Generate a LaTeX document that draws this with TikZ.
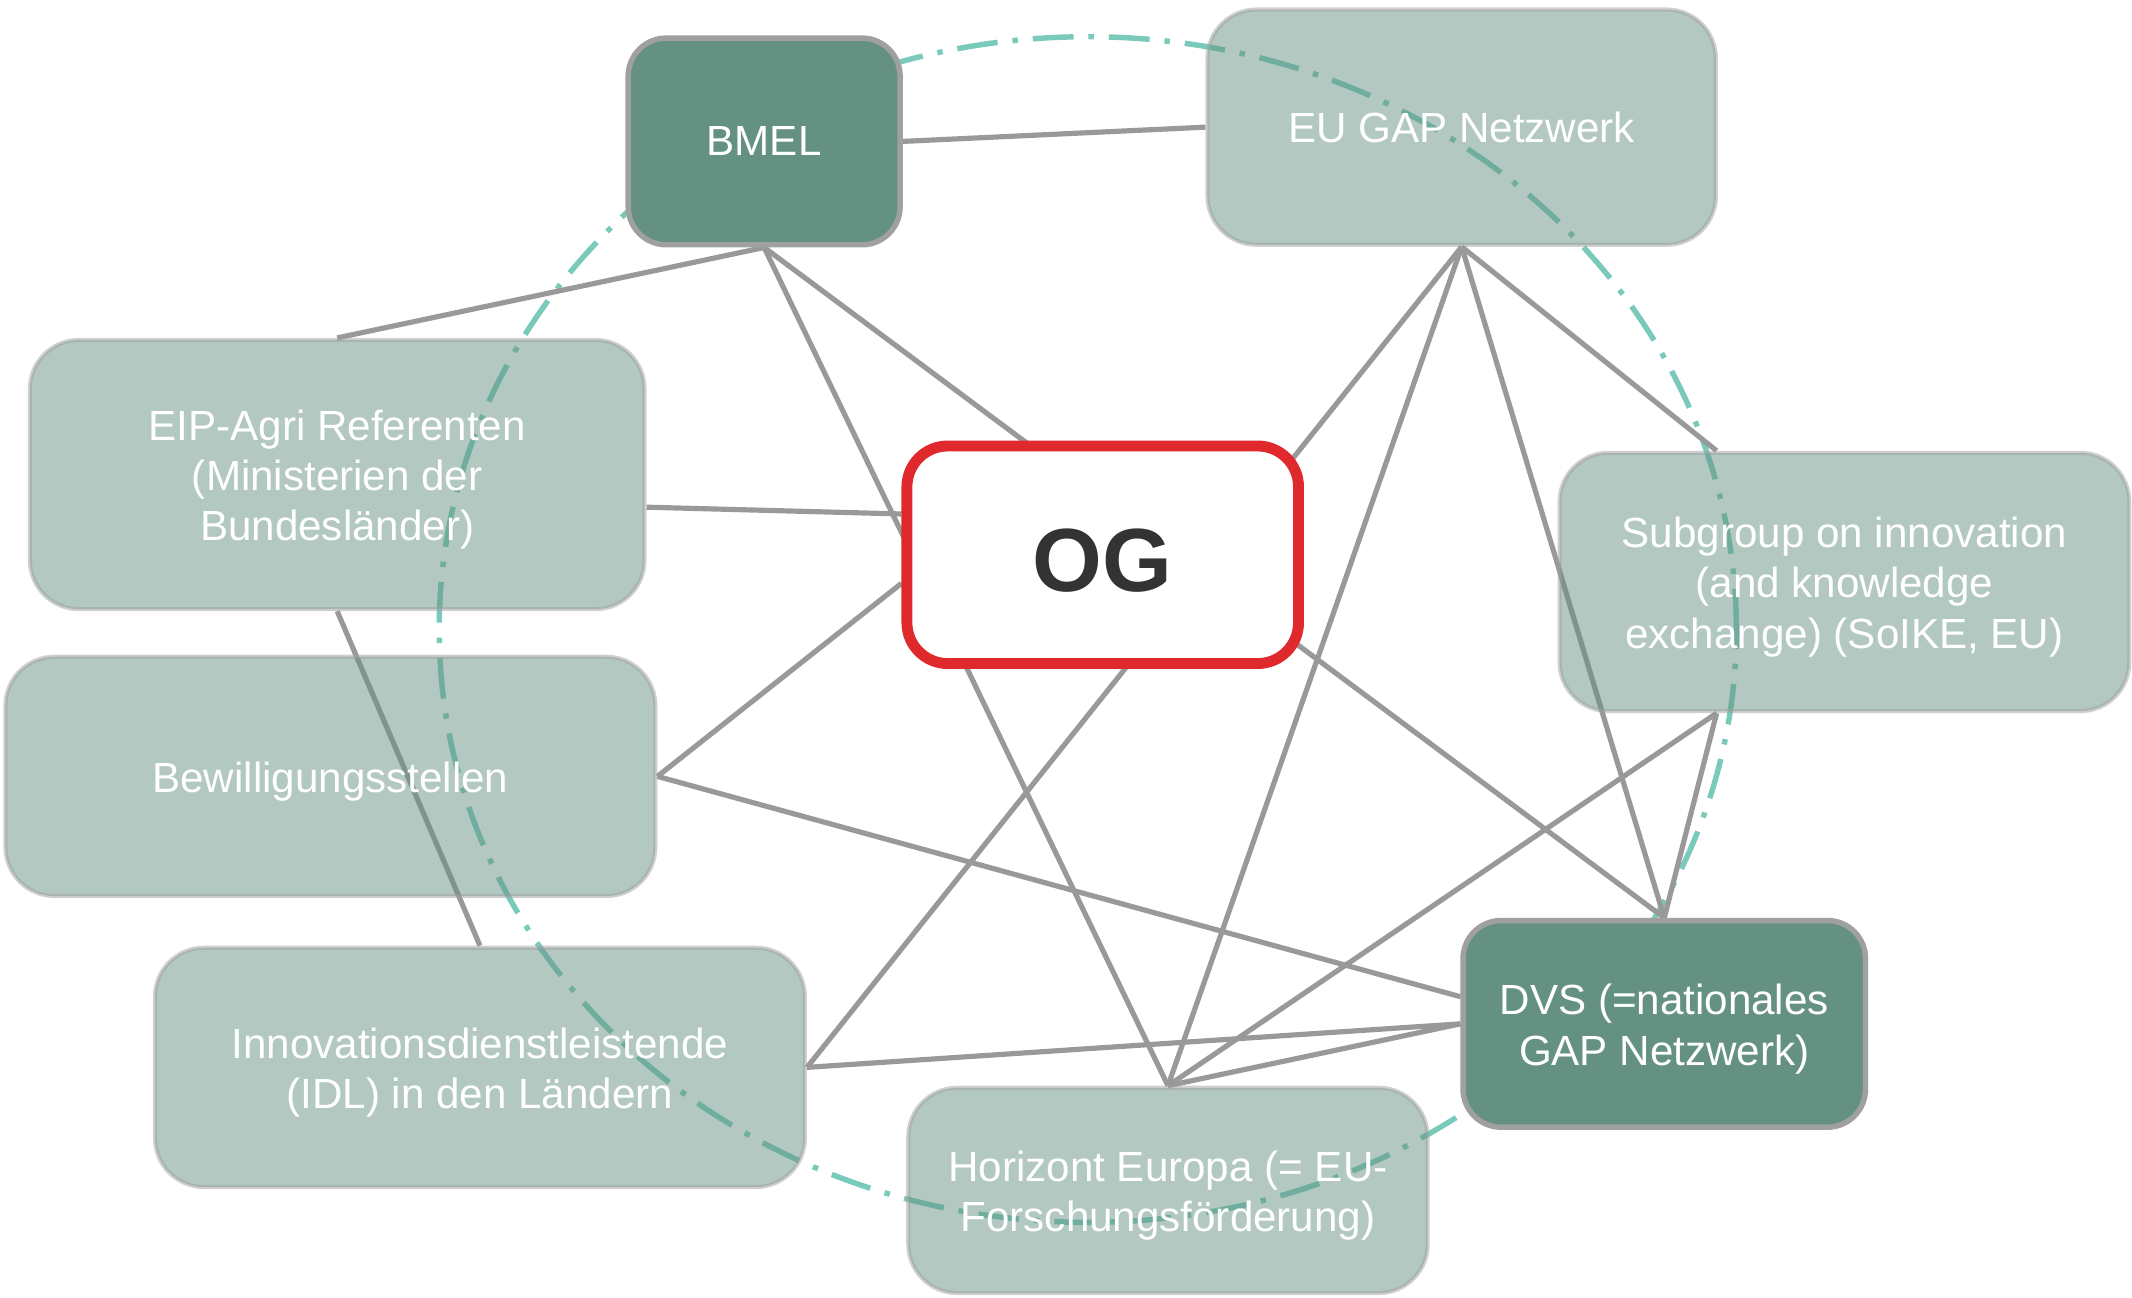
\documentclass[tikz,border=0pt]{standalone}
\usepackage{fontspec}
\setmainfont{Liberation Sans}
\usetikzlibrary{calc,backgrounds}
\definecolor{dkgreen}{RGB}{101,145,130}
\definecolor{edgegray}{RGB}{153,153,153}
\definecolor{bordgray}{RGB}{160,160,160}
\definecolor{ringteal}{RGB}{122,202,187}
\definecolor{ogred}{RGB}{224,41,44}
\definecolor{ogtext}{RGB}{51,51,51}
\newcommand\mytstrut{\rule{0pt}{30pt}}
\begin{document}
\begin{tikzpicture}[x=1pt,y=-1pt,
  boxtext/.style={text=white, font=\fontsize{31}{37}\selectfont, align=center, inner sep=0pt},
  darkbox/.style={boxtext, draw=bordgray, line width=4pt, fill=dkgreen, rounded corners=28pt},
  lightbox/.style={boxtext, draw=bordgray, line width=3pt, fill=dkgreen, fill opacity=0.5, draw opacity=0.5, text opacity=1, rounded corners=36pt},
  ogbox/.style={draw=ogred, line width=8pt, fill=white, rounded corners=30pt, text=ogtext, font=\fontsize{66}{70}\selectfont\bfseries, inner sep=0pt},
  link/.style={draw=edgegray, line width=3.8pt},
  ring/.style={draw=ringteal, line width=4pt, dash pattern=on 30pt off 11pt on 4pt off 11pt}]
\useasboundingbox (0,0) rectangle (1568,954);

% nodes
\node[darkbox, minimum width=200pt, minimum height=152pt] (bmel) at (562,104) {BMEL};
\node[lightbox, minimum width=374pt, minimum height=173pt] (eugap) at (1075,93.5) {EU GAP Netzwerk};
\node[lightbox, minimum width=452pt, minimum height=198pt] (eip) at (248,349) {\mytstrut EIP-Agri Referenten\\(Ministerien der\\Bundesländer)};
\node[lightbox, minimum width=478pt, minimum height=176pt] (bew) at (243,571) {\mytstrut Bewilligungsstellen};
\node[lightbox, minimum width=478pt, minimum height=176pt] (idl) at (353,785) {\mytstrut Innovationsdienstleistende\\(IDL) in den Ländern};
\node[lightbox, minimum width=382pt, minimum height=151pt] (hor) at (859,875.5) {\mytstrut Horizont Europa (= EU-\\Forschungsförderung)};
\node[lightbox, minimum width=419pt, minimum height=190pt] (sub) at (1356.5,428) {\mytstrut Subgroup on innovation\\(and knowledge\\exchange) (SoIKE, EU)};
\node[darkbox, minimum width=296pt, minimum height=152pt] (dvs) at (1224,753) {\mytstrut DVS (=nationales\\GAP Netzwerk)};
\node[ogbox, minimum width=288pt, minimum height=160pt] (og) at (811,408) {\rule{0pt}{54pt}OG};

\begin{pgfonlayer}{background}
  \coordinate (ringc) at (800,463);
  \draw[ring] (ringc) ellipse [x radius=477pt, y radius=436pt];
  \draw[link] (bmel.east) -- (eugap.west);
  \draw[link] (bmel.south) -- (eip.north);
  \draw[link] (bmel.south) -- (hor.north);
  \draw[link] (bmel.south) -- (dvs.north);
  \draw[link] ($(eip.east)+(0,24)$) -- ($(og.west)+(0,-30)$);
  \draw[link] (bew.east) -- ($(og.west)+(0,21)$);
  \draw[link] (bew.east) -- ($(dvs.west)+(0,-20)$);
  \draw[link] (eip.south) -- (idl.north);
  \draw[link] (idl.east) -- (eugap.south);
  \draw[link] (idl.east) -- (dvs.west);
  \draw[link] (eugap.south) -- (hor.north);
  \draw[link] (eugap.south) -- ($(sub.north)+(-94,0)$);
  \draw[link] (eugap.south) -- (dvs.north);
  \draw[link] ($(sub.south)+(-94,0)$) -- (dvs.north);
  \draw[link] ($(sub.south)+(-94,0)$) -- (hor.north);
  \draw[link] (dvs.west) -- (hor.north);
\end{pgfonlayer}
\end{tikzpicture}
\end{document}
